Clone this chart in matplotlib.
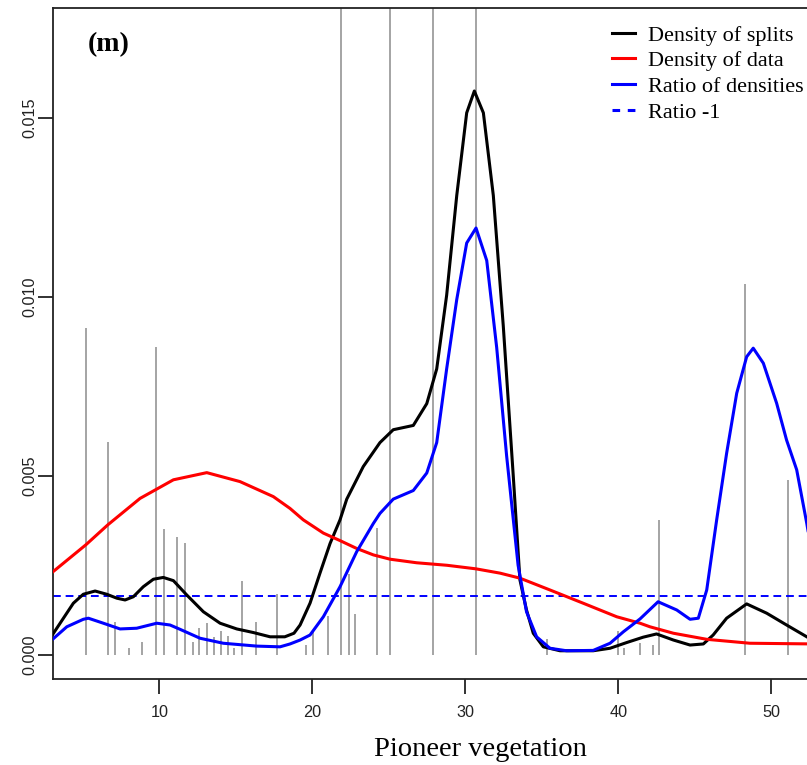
import numpy as np
import matplotlib
matplotlib.use("Agg")
import matplotlib.pyplot as plt
from matplotlib.lines import Line2D

plt.rcParams['font.family'] = ['Liberation Sans', 'DejaVu Sans']

# split positions and their bar heights (the last four reach past the top)
split_x = [5.19, 6.63, 7.10, 8.00, 8.89, 9.78, 10.29, 11.18, 11.68, 12.18,
           12.61, 13.10, 13.59, 14.01, 14.51, 14.90, 15.38, 16.32, 17.67,
           19.59, 20.03, 21.00, 21.88, 22.42, 22.79, 24.21, 25.08, 27.91,
           30.70, 35.32, 40.00, 40.39, 41.42, 42.29, 42.68, 48.30, 51.07]
split_h = [0.00913, 0.00594, 0.00092, 0.00020, 0.00036, 0.00860, 0.00351,
           0.00328, 0.00311, 0.00036, 0.00074, 0.00088, 0.00049, 0.00067,
           0.00052, 0.00020, 0.00207, 0.00092, 0.00170, 0.00027, 0.00064,
           0.00109, 0.02000, 0.00226, 0.00114, 0.00353, 0.02000, 0.02000,
           0.02000, 0.00044, 0.00067, 0.00020, 0.00032, 0.00027, 0.00377,
           0.01037, 0.00489]

splits_x = [3.05, 3.73, 4.38, 5.03, 5.80, 6.56, 7.22, 7.76, 8.30, 8.95, 9.61,
            10.26, 10.92, 11.79, 12.88, 13.97, 15.06, 16.14, 17.24, 18.20,
            18.80, 19.20, 19.85, 20.50, 21.16, 21.81, 22.25, 23.33, 24.42,
            25.29, 26.60, 27.48, 28.13, 28.78, 29.44, 30.09, 30.59, 31.18,
            31.83, 32.48, 33.14, 33.57, 34.00, 34.44, 35.10, 36.19, 38.36,
            39.46, 40.55, 41.63, 42.50, 43.60, 44.69, 45.56, 46.20, 47.08,
            48.39, 49.70, 51.00, 52.32, 52.90]
splits_y = [0.00058, 0.00102, 0.00144, 0.00169, 0.00178, 0.00169, 0.00158,
            0.00153, 0.00162, 0.00190, 0.00211, 0.00216, 0.00207, 0.00167,
            0.00120, 0.00088, 0.00072, 0.00062, 0.00050, 0.00050, 0.00060,
            0.00083, 0.00144, 0.00228, 0.00311, 0.00377, 0.00435, 0.00526,
            0.00593, 0.00629, 0.00641, 0.00702, 0.00799, 0.01005, 0.01284,
            0.01515, 0.01576, 0.01515, 0.01284, 0.00920, 0.00496, 0.00209,
            0.00125, 0.00060, 0.00022, 0.00011, 0.00011, 0.00018, 0.00034,
            0.00049, 0.00058, 0.00041, 0.00027, 0.00030, 0.00055, 0.00102,
            0.00142, 0.00116, 0.00083, 0.00050, 0.00036]

data_x = [3.05, 5.19, 6.63, 8.74, 10.92, 13.10, 15.27, 17.45, 18.54, 19.41,
          20.72, 21.81, 22.90, 23.99, 25.08, 26.82, 28.80, 30.70, 32.27,
          33.57, 35.53, 37.70, 39.90, 41.42, 42.07, 43.60, 45.78, 48.60,
          52.90]
data_y = [0.00232, 0.00307, 0.00363, 0.00437, 0.00489, 0.00509, 0.00484,
          0.00442, 0.00409, 0.00377, 0.00340, 0.00319, 0.00297, 0.00279,
          0.00267, 0.00257, 0.00250, 0.00240, 0.00228, 0.00214, 0.00181,
          0.00144, 0.00106, 0.00088, 0.00078, 0.00060, 0.00043, 0.00032,
          0.00030]

ratio_x = [3.05, 3.95, 5.03, 5.36, 6.34, 7.43, 8.52, 9.83, 10.70, 11.35,
           12.66, 14.18, 16.37, 17.89, 18.54, 19.20, 19.85, 20.72, 21.81,
           22.90, 23.99, 24.42, 25.29, 26.60, 27.48, 28.13, 28.78, 29.44,
           30.09, 30.70, 31.40, 32.05, 32.70, 33.45, 34.00, 34.66, 35.53,
           36.62, 38.36, 39.46, 40.33, 41.42, 42.60, 43.82, 44.69, 45.23,
           45.78, 46.43, 47.08, 47.74, 48.39, 48.82, 49.48, 50.35, 51.00,
           51.66, 52.32, 52.90]
ratio_y = [0.00044, 0.00078, 0.00099, 0.00102, 0.00088, 0.00072, 0.00074,
           0.00088, 0.00083, 0.00071, 0.00046, 0.00032, 0.00024, 0.00022,
           0.00030, 0.00041, 0.00055, 0.00106, 0.00190, 0.00288, 0.00367,
           0.00395, 0.00435, 0.00459, 0.00508, 0.00593, 0.00799, 0.00993,
           0.01151, 0.01193, 0.01102, 0.00859, 0.00556, 0.00250, 0.00120,
           0.00050, 0.00018, 0.00011, 0.00012, 0.00032, 0.00064, 0.00100,
           0.00148, 0.00125, 0.00099, 0.00102, 0.00181, 0.00377, 0.00563,
           0.00731, 0.00833, 0.00857, 0.00815, 0.00703, 0.00600, 0.00517,
           0.00367, 0.00220]

ratio_ref = 0.00165

fig = plt.figure(figsize=(8.07, 7.65), dpi=100)
# plot region runs off the right edge of the canvas
ax = fig.add_axes([0.0657, 0.1124, 1.0582, 0.8771])

ax.vlines(split_x, 0, split_h, color='#a4a4a4', lw=1.4, zorder=1)
ax.plot(splits_x, splits_y, color='black', lw=2.2, zorder=3)
ax.plot(data_x, data_y, color='red', lw=2.2, zorder=3)
ax.plot(ratio_x, ratio_y, color='blue', lw=2.2, zorder=3)
ax.axhline(ratio_ref, color='blue', lw=1.4, ls=(0, (4, 2.5)), zorder=2)

ax.set_xlim(3.05, 58.87)
ax.set_ylim(-0.00068, 0.01808)
ax.set_xticks([10, 20, 30, 40, 50])
ax.set_yticks([0.0, 0.005, 0.010, 0.015])
ax.set_yticklabels(['0.000', '0.005', '0.010', '0.015'], rotation=90, va='center')

for s in ax.spines.values():
    s.set_linewidth(1.3)
    s.set_color('#222222')
ax.tick_params(direction='out', length=10.5, width=1.3, color='#222222',
               labelsize=11.7, labelcolor='#222222')
ax.tick_params(axis='x', pad=8.5)
ax.tick_params(axis='y', pad=1)

ax.set_xlabel('Pioneer vegetation', family='Liberation Serif', fontsize=20.5,
              labelpad=12)
ax.text(0.0653, 0.945, '(m)', transform=ax.transAxes, family='Liberation Serif',
        fontweight='bold', fontsize=20, ha='center', va='center')

handles = [Line2D([], [], color='black', lw=2.2),
           Line2D([], [], color='red', lw=2.2),
           Line2D([], [], color='blue', lw=2.2),
           Line2D([], [], color='blue', lw=2.2, ls=(0, (2.5, 2.5)))]
labels = ['Density of splits', 'Density of data', 'Ratio of densities', 'Ratio -1']
ax.legend(handles, labels, loc='upper left', bbox_to_anchor=(612 / 807, 1 - 25 / 765),
          bbox_transform=fig.transFigure, frameon=False, borderpad=0,
          borderaxespad=0, handlelength=1.05, handletextpad=0.55,
          labelspacing=0.23, prop={'family': 'Liberation Serif', 'size': 16})

fig.savefig('out.png', dpi=100)
